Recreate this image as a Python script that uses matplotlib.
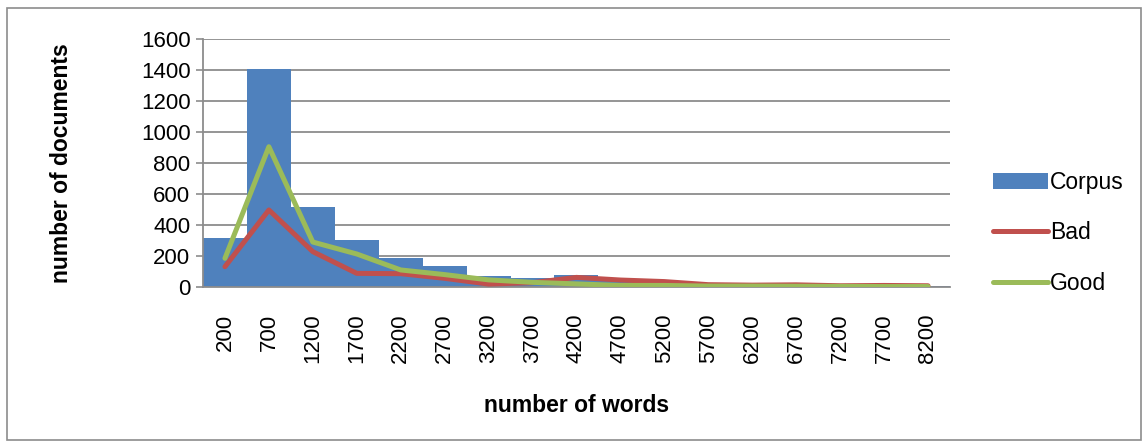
import matplotlib
matplotlib.use("Agg")
import matplotlib.pyplot as plt
from matplotlib.patches import Rectangle
import numpy as np

plt.rcParams['font.family'] = ['Liberation Sans', 'DejaVu Sans']

categories = [200, 700, 1200, 1700, 2200, 2700, 3200, 3700, 4200,
              4700, 5200, 5700, 6200, 6700, 7200, 7700, 8200]
corpus = [318, 1406, 516, 300, 188, 137, 70, 60, 78, 42, 35, 18, 15, 15, 10, 8, 5]
bad = [131, 497, 228, 88, 86, 56, 19, 28, 62, 45, 35, 15, 12, 14, 8, 10, 8]
good = [185, 905, 290, 213, 110, 80, 46, 30, 20, 10, 10, 6, 6, 5, 4, 3, 3]
y_ticks = [0, 200, 400, 600, 800, 1000, 1200, 1400, 1600]

fig = plt.figure(figsize=(11.48, 4.46), dpi=100)
fig.patches.append(Rectangle((0.006, 0.013), 0.988, 0.97, transform=fig.transFigure,
                             fill=False, edgecolor='#8c8c8c', linewidth=1.2))
ax = fig.add_axes([0.1768, 0.3565, 0.6507, 0.5561])

x = np.arange(len(categories))
hb = ax.bar(x, corpus, width=1.0, color='#4F81BD', label='Corpus', zorder=2)
hr, = ax.plot(x, bad, color='#C0504D', linewidth=3.6, label='Bad', zorder=3,
              solid_capstyle='round', solid_joinstyle='round')
hg, = ax.plot(x, good, color='#9BBB59', linewidth=3.6, label='Good', zorder=4,
              solid_capstyle='round', solid_joinstyle='round')

ax.set_xlim(-0.5, len(categories) - 0.5)
ax.set_ylim(0, 1600)
ax.set_yticks(y_ticks)
ax.set_yticklabels([str(v) for v in y_ticks], fontsize=16)
ax.set_xticks(x)
ax.set_xticklabels([str(c) for c in categories], rotation=90, fontsize=16)
ax.tick_params(axis='x', length=0, pad=19)
ax.tick_params(axis='y', length=5, width=1.2, color='#8c8c8c', pad=4)
ax.yaxis.grid(True, color='#8c8c8c', linewidth=1.3, zorder=0)
ax.set_axisbelow(True)
for s in ['top', 'right']:
    ax.spines[s].set_visible(False)
ax.spines['left'].set_color('#8c8c8c')
ax.spines['left'].set_linewidth(1.3)
ax.spines['bottom'].set_color('#8c8c8c')
ax.spines['bottom'].set_linewidth(1.3)

ax.set_xlabel('number of words', fontsize=16.5, fontweight='bold', labelpad=22)
ax.set_ylabel('number of documents', fontsize=16.5, fontweight='bold', labelpad=49)

leg = ax.legend([hb, hr, hg], ['Corpus', 'Bad', 'Good'],
                loc='center left', bbox_to_anchor=(1.03, 0.218), frameon=False,
                fontsize=16.5, handlelength=2.4, handleheight=0.75,
                handletextpad=0.1, labelspacing=1.2)

fig.savefig('out.png', dpi=100)
